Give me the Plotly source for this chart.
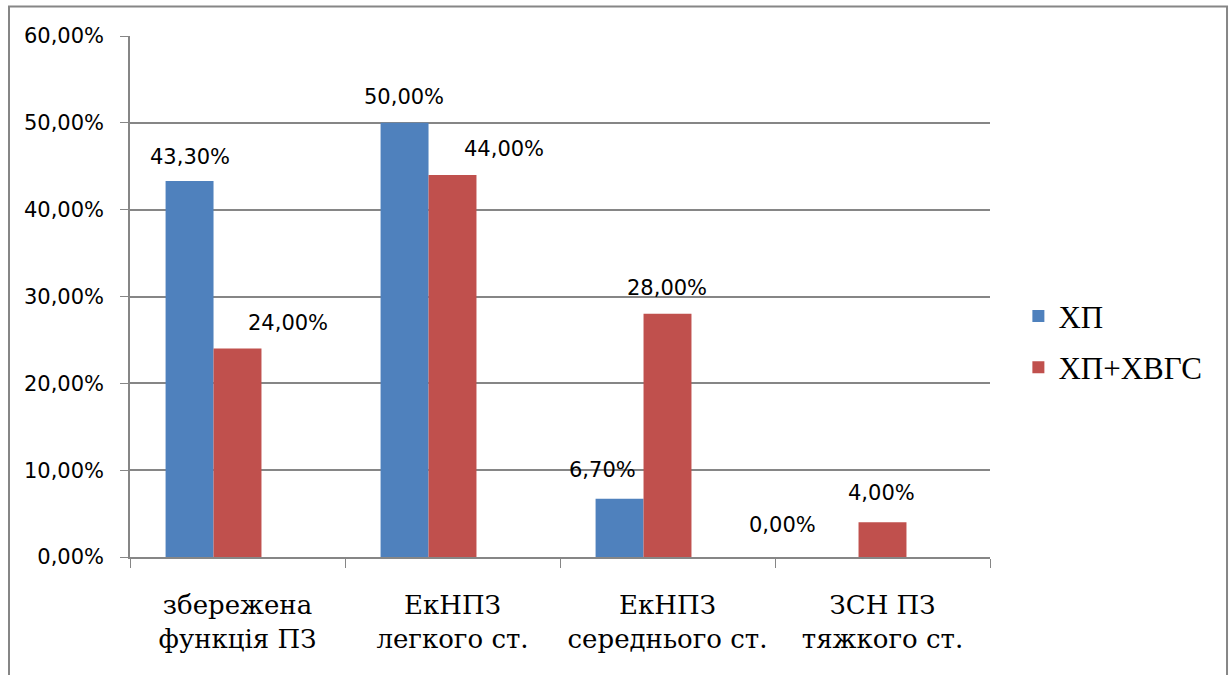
import plotly.graph_objects as go

# Functional status groups and shares of patients (percent)
categories = ["збережена<br>функція ПЗ", "ЕкНПЗ<br>легкого ст.",
              "ЕкНПЗ<br>середнього ст.", "ЗСН ПЗ<br>тяжкого ст."]
series_names = ["ХП", "ХП+ХВГС"]
hp_values = [43.3, 50.0, 6.7, 0.0]
hp_hvgs_values = [24.0, 44.0, 28.0, 4.0]
y_ticks = [0, 10, 20, 30, 40, 50, 60]
y_tick_labels = ["0,00%", "10,00%", "20,00%", "30,00%", "40,00%", "50,00%", "60,00%"]

colors = ["#4F81BD", "#C0504D"]
bar_w = 0.223  # three slots per category, the third left empty

def pct(v):
    return f"{v:.2f}".replace(".", ",") + "%"

fig = go.Figure()
for name, vals, col, off in [(series_names[0], hp_values, colors[0], -1.5 * bar_w),
                             (series_names[1], hp_hvgs_values, colors[1], -0.5 * bar_w)]:
    fig.add_trace(go.Bar(
        x=categories, y=vals, name=name, marker_color=col, legendgroup=name,
        marker_line_width=0, width=bar_w, offset=off,
    ))

# Value labels (manually nudged as in the original layout)
label_font = dict(family="DejaVu Sans", size=21, color="#000000")
hp_shift = [(0, 24), (-1, 26), (-17, 29), (-52, 32)]
hvgs_shift = [(50, 26), (51, 26), (-1, 26), (-1, 29)]
for i, c in enumerate(categories):
    for vals, shifts, base in [(hp_values, hp_shift, -1.0), (hp_hvgs_values, hvgs_shift, 0.0)]:
        dx, dy = shifts[i]
        fig.add_annotation(
            x=c, y=vals[i], text=pct(vals[i]), showarrow=False,
            xshift=base * bar_w * 215 + dx, yshift=dy, yanchor="middle",
            font=label_font,
        )

# Outer chart frame
fig.add_shape(type="rect", xref="paper", yref="paper",
              x0=-0.1407, x1=1.2756, y0=-0.25, y1=1.0566,
              line=dict(color="#868686", width=2), fillcolor="rgba(0,0,0,0)")

fig.update_layout(
    width=1231, height=675,
    margin=dict(l=130, r=241, t=36, b=118),
    paper_bgcolor="white", plot_bgcolor="white",
    showlegend=True,
    legend=dict(x=1.033, y=0.413, xanchor="left", yanchor="middle",
                font=dict(family="Liberation Serif", size=31, color="#000000"),
                itemsizing="constant", tracegroupgap=8, itemwidth=30),
    bargap=0.33,
    xaxis=dict(
        type="category", showgrid=False, showline=True, linecolor="#868686", linewidth=1.5,
        ticks="outside", ticklen=9, tickcolor="#868686", tickson="boundaries",
        tickfont=dict(family="DejaVu Serif", size=26, color="#000000"),
        tickangle=0, automargin=False,
        ticklabelstandoff=24,
        range=[-0.5, 3.5],
    ),
    yaxis=dict(
        range=[0, 60], tickvals=y_ticks, ticktext=y_tick_labels,
        showgrid=True, gridcolor="#868686", gridwidth=1.5,
        showline=True, linecolor="#868686", linewidth=1.5,
        ticks="outside", ticklen=8, tickcolor="#868686",
        tickfont=dict(family="DejaVu Sans", size=21, color="#000000"),
        ticklabelstandoff=12, automargin=False,
        zeroline=False,
    ),
)

fig.write_html("out.html")
